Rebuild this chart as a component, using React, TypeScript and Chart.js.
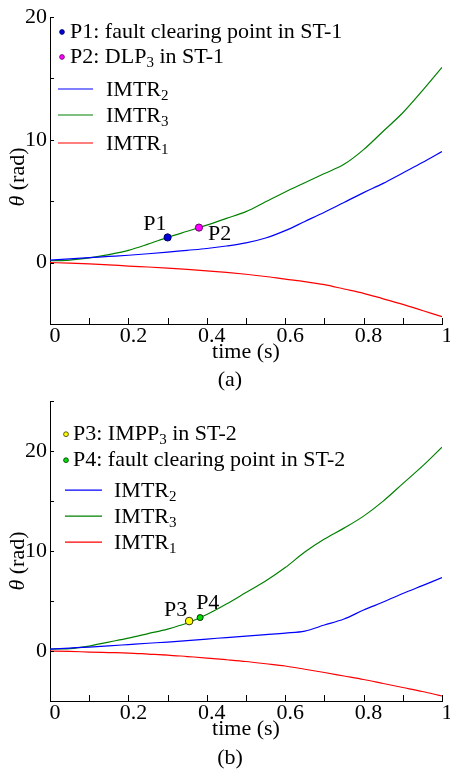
import { useEffect, useRef } from "react";
import { Chart, registerables } from "chart.js";

Chart.register(...registerables);

// Shared time base (s)
const timeS = [0, 0.05, 0.1, 0.15, 0.2, 0.25, 0.3, 0.35, 0.4, 0.45, 0.5, 0.55, 0.6, 0.65, 0.7, 0.75, 0.8, 0.85, 0.9, 0.95, 1.0];

// Panel (a): rotor angle trajectories in ST-1 (rad)
const imtr1A = [0, -0.04, -0.1, -0.18, -0.28, -0.36, -0.45, -0.55, -0.67, -0.8, -0.95, -1.13, -1.35, -1.55, -1.8, -2.15, -2.5, -2.95, -3.4, -3.9, -4.4];
const imtr2A = [0.2, 0.3, 0.4, 0.5, 0.6, 0.72, 0.85, 1.0, 1.15, 1.35, 1.6, 2.0, 2.6, 3.35, 4.1, 4.9, 5.7, 6.45, 7.3, 8.15, 9.05];
const imtr3A = [0.15, 0.2, 0.38, 0.65, 1.0, 1.5, 2.05, 2.55, 3.05, 3.6, 4.15, 4.95, 5.75, 6.5, 7.25, 8.0, 9.2, 10.7, 12.2, 14.0, 15.9];
const markerNameA = ["P1", "P2"];
const markerTimeA = [0.3, 0.38];
const markerValueA = [2.05, 2.85];

// Panel (b): rotor angle trajectories in ST-2 (rad)
const imtr1B = [0, -0.04, -0.1, -0.15, -0.2, -0.3, -0.4, -0.55, -0.7, -0.87, -1.05, -1.27, -1.5, -1.82, -2.15, -2.5, -2.85, -3.25, -3.65, -4.05, -4.5];
const imtr2B = [0.2, 0.3, 0.4, 0.52, 0.65, 0.78, 0.9, 1.05, 1.2, 1.35, 1.5, 1.65, 1.8, 2.0, 2.6, 3.2, 4.1, 4.9, 5.75, 6.55, 7.35];
const imtr3B = [0.2, 0.25, 0.5, 0.9, 1.3, 1.75, 2.2, 2.8, 3.65, 4.7, 5.85, 7.0, 8.35, 9.9, 11.2, 12.3, 13.5, 15.0, 16.75, 18.5, 20.4];
const markerNameB = ["P3", "P4"];
const markerTimeB = [0.355, 0.383];
const markerValueB = [3.0, 3.35];

// Axis ranges and labelled tick values
const yRangeA = [-5, 20];
const yRangeB = [-5, 25];
const xLabelValues = [0, 0.2, 0.4, 0.6, 0.8, 1];
const yLabelValues = [0, 10, 20];

const SERIF = "'Liberation Serif', 'Times New Roman', Times, serif";
const BLUE = "#0000ff";
const GREEN = "#008000";
const RED = "#ff0000";

type TextPart = { t: string; sub?: boolean };
type LegendItem = {
  kind: "dot" | "line";
  color: string;
  stroke?: string;
  dy: number;
  parts: TextPart[];
};
type MarkerStyle = {
  fill: string;
  stroke: string;
  r: number;
  dx: number;
  dy: number;
  align: CanvasTextAlign;
};
type Panel = {
  yRange: number[];
  series: number[][];
  markerName: string[];
  markerTime: number[];
  markerValue: number[];
  markerStyle: MarkerStyle[];
  padTop: number;
  xScaleHeight: number;
  titlePad: number;
  yTitleY: number;
  legendDotX: number;
  legendDotTextX: number;
  legendLineX0: number;
  legendLineX1: number;
  legendLineTextX: number;
  legend: LegendItem[];
};

const FONT_SIZE = 22;
const SUB_SIZE = 15;

function drawParts(ctx: CanvasRenderingContext2D, x: number, y: number, parts: TextPart[]) {
  let cx = x;
  ctx.textAlign = "left";
  ctx.textBaseline = "middle";
  for (const p of parts) {
    ctx.font = `${p.sub ? SUB_SIZE : FONT_SIZE}px ${SERIF}`;
    ctx.fillText(p.t, cx, p.sub ? y + 6 : y);
    cx += ctx.measureText(p.t).width;
  }
}

function decorPlugin(p: Panel) {
  return {
    id: "decor",
    afterDraw(chart: any) {
      const ctx: CanvasRenderingContext2D = chart.ctx;
      const { left, top, bottom } = chart.chartArea;
      const xs = chart.scales.x;
      const ys = chart.scales.y;
      ctx.save();

      // inward tick marks
      ctx.strokeStyle = "#000";
      ctx.lineWidth = 1;
      ctx.beginPath();
      xs.ticks.forEach((t: any) => {
        const px = Math.round(xs.getPixelForValue(t.value)) + 0.5;
        ctx.moveTo(px, bottom);
        ctx.lineTo(px, bottom - 6);
      });
      ys.ticks.forEach((t: any) => {
        const py = Math.round(ys.getPixelForValue(t.value)) + 0.5;
        ctx.moveTo(left, py);
        ctx.lineTo(left + 4, py);
      });
      ctx.stroke();

      // marker labels
      ctx.fillStyle = "#000";
      ctx.font = `${FONT_SIZE}px ${SERIF}`;
      ctx.textBaseline = "middle";
      p.markerName.forEach((name, i) => {
        const st = p.markerStyle[i];
        const px = xs.getPixelForValue(p.markerTime[i]);
        const py = ys.getPixelForValue(p.markerValue[i]);
        ctx.textAlign = st.align;
        ctx.fillText(name, px + st.dx, py + st.dy);
      });

      // in-plot legend
      p.legend.forEach((item) => {
        const y = top + item.dy;
        if (item.kind === "dot") {
          ctx.beginPath();
          ctx.arc(left + p.legendDotX, y, 2.4, 0, Math.PI * 2);
          ctx.fillStyle = item.color;
          ctx.fill();
          ctx.strokeStyle = item.stroke || item.color;
          ctx.lineWidth = 0.8;
          ctx.stroke();
          ctx.fillStyle = "#000";
          drawParts(ctx, left + p.legendDotTextX, y, item.parts);
        } else {
          ctx.beginPath();
          ctx.strokeStyle = item.color;
          ctx.lineWidth = 1.2;
          ctx.moveTo(left + p.legendLineX0, y);
          ctx.lineTo(left + p.legendLineX1, y);
          ctx.stroke();
          ctx.fillStyle = "#000";
          drawParts(ctx, left + p.legendLineTextX, y + 1, item.parts);
        }
      });

      // y-axis title: italic theta followed by the unit
      ctx.save();
      ctx.translate(18, p.yTitleY);
      ctx.rotate(-Math.PI / 2);
      ctx.fillStyle = "#000";
      ctx.textBaseline = "middle";
      ctx.textAlign = "left";
      const fTheta = `italic ${FONT_SIZE}px ${SERIF}`;
      const fUnit = `${FONT_SIZE}px ${SERIF}`;
      ctx.font = fTheta;
      const wTheta = ctx.measureText("θ").width;
      ctx.font = fUnit;
      const wUnit = ctx.measureText(" (rad)").width;
      const x0 = -(wTheta + wUnit) / 2;
      ctx.font = fTheta;
      ctx.fillText("θ", x0, 0);
      ctx.font = fUnit;
      ctx.fillText(" (rad)", x0 + wTheta, 0);
      ctx.restore();

      ctx.restore();
    },
  };
}

function isLabelled(values: number[], v: number) {
  return values.some((x) => Math.abs(x - v) < 1e-6);
}

function buildChart(canvas: HTMLCanvasElement, p: Panel) {
  const tickFont = { family: SERIF, size: FONT_SIZE };
  const lineColors = [RED, BLUE, GREEN];
  const lineNames = ["IMTR1", "IMTR2", "IMTR3"];
  const markerSets = p.markerName.map((name, i) => ({
    type: "scatter" as const,
    label: name,
    data: [{ x: p.markerTime[i], y: p.markerValue[i] }],
    pointRadius: p.markerStyle[i].r,
    pointBackgroundColor: p.markerStyle[i].fill,
    pointBorderColor: p.markerStyle[i].stroke,
    pointBorderWidth: 1,
    order: 0,
  }));
  const lineSets = p.series.map((vals, k) => ({
    type: "line" as const,
    label: lineNames[k],
    data: timeS.map((t, i) => ({ x: t, y: vals[i] })),
    borderColor: lineColors[k],
    borderWidth: 1.2,
    pointRadius: 0,
    fill: false,
    cubicInterpolationMode: "monotone" as const,
    order: 1,
  }));

  return new Chart(canvas, {
    type: "line",
    data: { datasets: [...markerSets, ...lineSets] as any },
    options: {
      responsive: false,
      animation: false,
      layout: { padding: { top: p.padTop, right: 8, left: 0, bottom: 0 } },
      plugins: {
        legend: { display: false },
        tooltip: { enabled: false },
        title: { display: false },
      },
      scales: {
        x: {
          type: "linear",
          min: 0,
          max: 1,
          grid: { drawOnChartArea: false, drawTicks: false },
          border: { display: true, color: "#000", width: 1 },
          ticks: {
            stepSize: 0.1,
            autoSkip: false,
            maxRotation: 0,
            padding: -1,
            labelOffset: 5,
            color: "#000",
            font: tickFont,
            callback: (v: any) => (isLabelled(xLabelValues, Number(v)) ? String(+Number(v).toFixed(1)) : ""),
          },
          title: {
            display: true,
            text: "time (s)",
            color: "#000",
            font: tickFont,
            padding: { top: 0, bottom: p.titlePad },
          },
          afterFit: (s: any) => {
            s.height = p.xScaleHeight;
          },
        },
        y: {
          type: "linear",
          min: p.yRange[0],
          max: p.yRange[1],
          grid: { drawOnChartArea: false, drawTicks: false },
          border: { display: true, color: "#000", width: 1 },
          ticks: {
            stepSize: 5,
            autoSkip: false,
            padding: 3,
            color: "#000",
            font: tickFont,
            callback: (v: any) => (isLabelled(yLabelValues, Number(v)) ? String(v) : ""),
          },
          afterFit: (s: any) => {
            s.width = 50;
          },
        },
      },
    } as any,
    plugins: [decorPlugin(p)],
  });
}

const panelA: Panel = {
  yRange: yRangeA,
  series: [imtr1A, imtr2A, imtr3A],
  markerName: markerNameA,
  markerTime: markerTimeA,
  markerValue: markerValueA,
  markerStyle: [
    { fill: "#0000dd", stroke: "#000066", r: 3.6, dx: -1, dy: -13, align: "right" },
    { fill: "#ff00ff", stroke: "#660066", r: 3.6, dx: 9, dy: 7, align: "left" },
  ],
  padTop: 17,
  xScaleHeight: 61,
  titlePad: 20,
  yTitleY: 177,
  legendDotX: 12,
  legendDotTextX: 20,
  legendLineX0: 8,
  legendLineX1: 43,
  legendLineTextX: 56,
  legend: [
    { kind: "dot", color: "#0000dd", stroke: "#000066", dy: 15, parts: [{ t: "P1: fault clearing point in ST-1" }] },
    { kind: "dot", color: "#ff00ff", stroke: "#660066", dy: 40, parts: [{ t: "P2: DLP" }, { t: "3", sub: true }, { t: " in ST-1" }] },
    { kind: "line", color: BLUE, dy: 72, parts: [{ t: "IMTR" }, { t: "2", sub: true }] },
    { kind: "line", color: GREEN, dy: 98, parts: [{ t: "IMTR" }, { t: "3", sub: true }] },
    { kind: "line", color: RED, dy: 126, parts: [{ t: "IMTR" }, { t: "1", sub: true }] },
  ],
};

const panelB: Panel = {
  yRange: yRangeB,
  series: [imtr1B, imtr2B, imtr3B],
  markerName: markerNameB,
  markerTime: markerTimeB,
  markerValue: markerValueB,
  markerStyle: [
    { fill: "#ffff00", stroke: "#333300", r: 3.8, dx: -2, dy: -11, align: "right" },
    { fill: "#00dd00", stroke: "#003300", r: 3, dx: -4, dy: -14, align: "left" },
  ],
  padTop: 8,
  xScaleHeight: 68,
  titlePad: 27,
  yTitleY: 176,
  legendDotX: 16,
  legendDotTextX: 23,
  legendLineX0: 15,
  legendLineX1: 52,
  legendLineTextX: 64,
  legend: [
    { kind: "dot", color: "#ffff00", stroke: "#333300", dy: 33, parts: [{ t: "P3: IMPP" }, { t: "3", sub: true }, { t: " in ST-2" }] },
    { kind: "dot", color: "#00dd00", stroke: "#003300", dy: 59, parts: [{ t: "P4: fault clearing point in ST-2" }] },
    { kind: "line", color: BLUE, dy: 89, parts: [{ t: "IMTR" }, { t: "2", sub: true }] },
    { kind: "line", color: GREEN, dy: 115, parts: [{ t: "IMTR" }, { t: "3", sub: true }] },
    { kind: "line", color: RED, dy: 141, parts: [{ t: "IMTR" }, { t: "1", sub: true }] },
  ],
};

const captionStyle: React.CSSProperties = {
  position: "absolute",
  left: 180,
  width: 100,
  height: 26,
  lineHeight: "26px",
  textAlign: "center",
  fontFamily: SERIF,
  fontSize: FONT_SIZE,
  color: "#000",
};

export default function App() {
  const refA = useRef<HTMLCanvasElement>(null);
  const refB = useRef<HTMLCanvasElement>(null);

  useEffect(() => {
    const a = refA.current ? buildChart(refA.current, panelA) : null;
    const b = refB.current ? buildChart(refB.current, panelB) : null;
    return () => {
      a?.destroy();
      b?.destroy();
    };
  }, []);

  return (
    <div style={{ position: "fixed", left: 0, top: 0, width: 450, height: 769, background: "#fff" }}>
      <canvas ref={refA} width={450} height={385} style={{ position: "absolute", left: 0, top: 0, display: "block" }} />
      <div style={{ ...captionStyle, top: 366 }}>(a)</div>
      <canvas ref={refB} width={450} height={384} style={{ position: "absolute", left: 0, top: 385, display: "block" }} />
      <div style={{ ...captionStyle, top: 744 }}>(b)</div>
    </div>
  );
}
